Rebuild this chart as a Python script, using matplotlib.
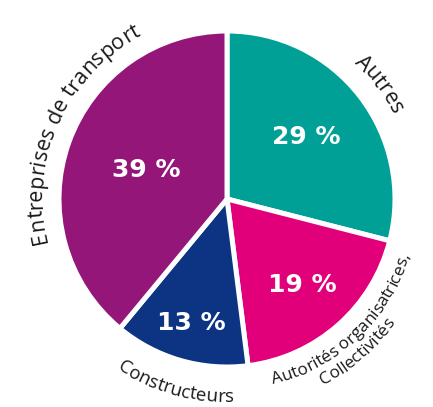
import numpy as np
import matplotlib
matplotlib.use("Agg")
import matplotlib.pyplot as plt
from matplotlib.font_manager import FontProperties, findfont, get_font

# slices, clockwise from 12 o'clock
categories = ["Autres", "Autorités organisatrices,", "Constructeurs", "Entreprises de transport"]
second_line = ["", "Collectivités", "", ""]
shares = [29, 19, 13, 39]
colors = ["#00A096", "#E2007A", "#0D3383", "#941678"]

DPI = 100
W, H = 433, 407
cx, cy = 227, H - 199
R = 168

# where the white percentages sit (fraction of radius)
pct_radius = [0.60, 0.68, 0.77, 0.51]

# curved name labels: centre angle (deg), baseline radius, size, clockwise
name_pos = [(37, 186, 15.5, True),
            (-46.5, 191, 12.5, False),
            (254.5, 203, 13.5, False),
            (155.5, 185, 15.5, True)]
line2_pos = [None, (-49.5, 209, 12.5, False), None, None]

LABEL_FONT = "Open Sans"


def arc_text(ax, s, theta_c, r, size, clockwise=True):
    fp = FontProperties(family=LABEL_FONT, size=size)
    font = get_font(findfont(fp))
    font.set_size(size, DPI)
    adv = [font.load_char(ord(c)).linearHoriAdvance / 65536 for c in s]
    total = sum(adv)
    pos = 0
    for ch, a in zip(s, adv):
        mid = pos + a / 2 - total / 2
        pos += a
        dth = np.degrees(mid / r)
        if clockwise:
            th = theta_c - dth
            rot = th - 90
        else:
            th = theta_c + dth
            rot = th + 90
        x = cx + r * np.cos(np.radians(th))
        y = cy + r * np.sin(np.radians(th))
        ax.text(x, y, ch, rotation=rot, ha="center", va="baseline",
                rotation_mode="anchor", fontproperties=fp, color="#1a1a1a")


fig = plt.figure(figsize=(W / DPI, H / DPI), dpi=DPI)
ax = fig.add_axes([0, 0, 1, 1])
wedges, _ = ax.pie(shares, colors=colors, startangle=90, counterclock=False,
                   center=(cx, cy), radius=R,
                   wedgeprops=dict(edgecolor="white", linewidth=3.6))
ax.set_xlim(0, W)
ax.set_ylim(0, H)
ax.set_aspect("equal")
ax.axis("off")

for w, val, fr in zip(wedges, shares, pct_radius):
    mid = np.radians((w.theta1 + w.theta2) / 2)
    ax.text(cx + fr * R * np.cos(mid), cy + fr * R * np.sin(mid), f"{val} %",
            ha="center", va="center", color="white", fontsize=18,
            fontweight="bold", family="DejaVu Sans")

for name, p in zip(categories, name_pos):
    arc_text(ax, name, *p)
for name, p in zip(second_line, line2_pos):
    if p:
        arc_text(ax, name, *p)

fig.savefig("out.png", dpi=DPI)
